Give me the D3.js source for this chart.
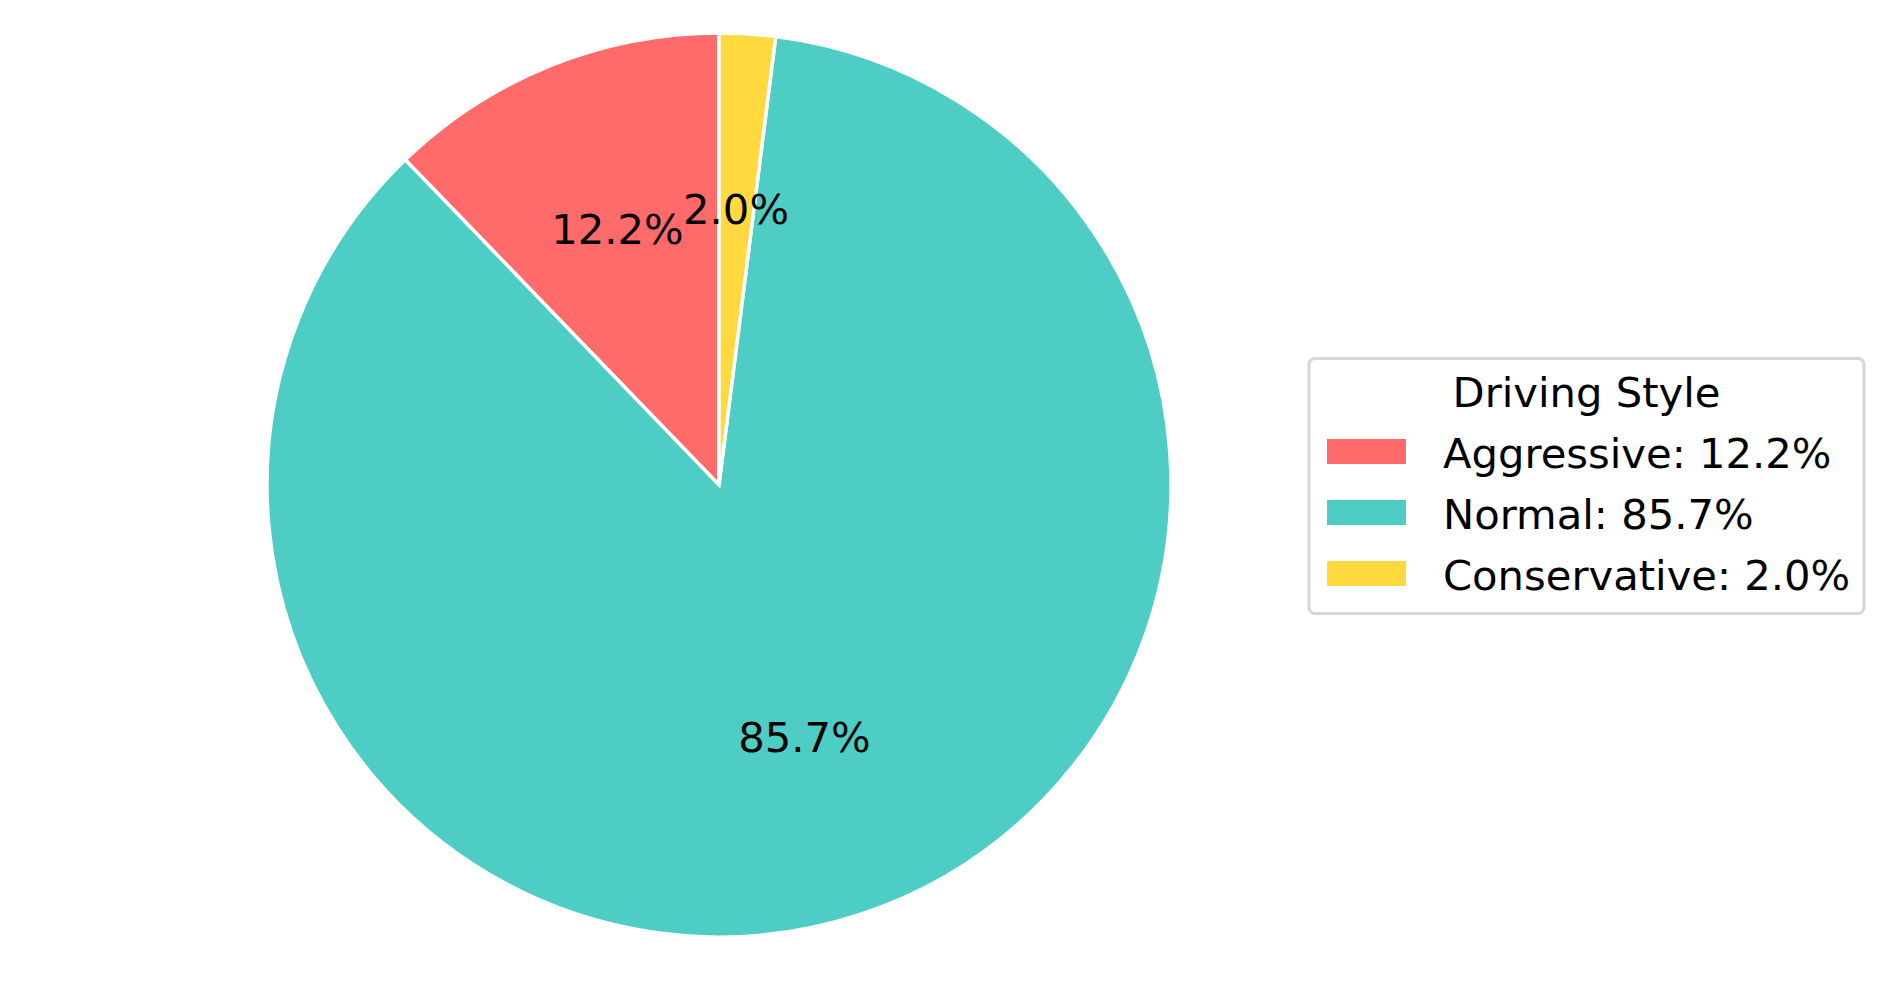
<!DOCTYPE html>
<html lang="en">
<head>
  <meta charset="UTF-8">
  <title>Driving Style</title>
  <script src="https://d3js.org/d3.v7.min.js"></script>
  <style>
    body { margin: 0; background: #fff; font-family: "DejaVu Sans", sans-serif; }
    svg { display: block; }
  </style>
</head>
<body>
  <svg width="1894" height="981"></svg>

  <script>
    const categories = ["Aggressive", "Normal", "Conservative"];
    const shares = [12.2, 85.7, 2.0];
    const colors = ["#FF6B6B", "#4ECDC4", "#FFD93D"];
    const legendTitle = "Driving Style";

    const svg = d3.select("svg");
    const cx = 719, cy = 485, radius = 452;
    const fontSize = "41.7px";

    const data = categories.map((c, i) => ({ name: c, value: shares[i], color: colors[i] }));

    // counter-clockwise from 12 o'clock, like matplotlib startangle=90
    const pie = d3.pie().value(d => d.value).sort(null)
      .startAngle(0).endAngle(-2 * Math.PI);
    const arcs = pie(data);

    const arc = d3.arc().innerRadius(0).outerRadius(radius);
    const labelArc = d3.arc().innerRadius(radius * 0.6).outerRadius(radius * 0.6);

    const g = svg.append("g").attr("transform", `translate(${cx},${cy})`);

    g.selectAll("path")
      .data(arcs).enter().append("path")
      .attr("d", arc)
      .attr("fill", d => d.data.color)
      .attr("stroke", "#fff")
      .attr("stroke-width", 3.5)
      .attr("stroke-linejoin", "miter");

    g.selectAll("text.pct")
      .data(arcs).enter().append("text")
      .attr("class", "pct")
      .attr("x", d => labelArc.centroid(d)[0])
      .attr("y", d => labelArc.centroid(d)[1] + 10)
      .attr("text-anchor", "middle")
      .attr("font-size", fontSize)
      .attr("fill", "#000")
      .text(d => d.data.value.toFixed(1) + "%");

    // Legend
    const lg = svg.append("g");
    lg.append("rect")
      .attr("x", 1309).attr("y", 358.5)
      .attr("width", 555).attr("height", 255)
      .attr("rx", 6).attr("ry", 6)
      .attr("fill", "#fff")
      .attr("stroke", "#d6d6d6")
      .attr("stroke-width", 3);

    lg.append("text")
      .attr("x", 1586.5).attr("y", 407)
      .attr("text-anchor", "middle")
      .attr("font-size", fontSize)
      .text(legendTitle);

    const row = d3.scaleLinear().domain([0, 1]).range([468, 529]);

    const item = lg.selectAll("g.item")
      .data(data).enter().append("g")
      .attr("class", "item")
      .attr("transform", (d, i) => `translate(0,${row(i)})`);

    item.append("rect")
      .attr("x", 1327).attr("y", -29)
      .attr("width", 79).attr("height", 25)
      .attr("fill", d => d.color);

    item.append("text")
      .attr("x", 1443).attr("y", 0)
      .attr("font-size", fontSize)
      .text(d => `${d.name}: ${d.value.toFixed(1)}%`);
  </script>
</body>
</html>
